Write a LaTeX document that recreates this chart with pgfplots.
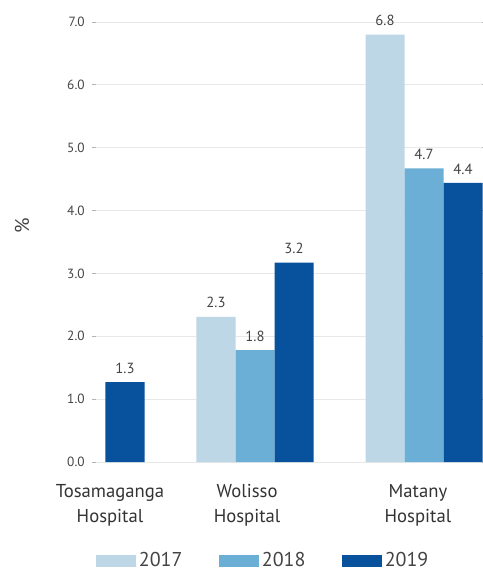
\documentclass[border=0pt]{standalone}
\usepackage{pgfplots}
\pgfplotsset{compat=1.18}
\usepackage{fontspec}
\setmainfont{PT Sans}
\definecolor{c17}{HTML}{BDD7E7}
\definecolor{c18}{HTML}{6BAED6}
\definecolor{c19}{HTML}{08519C}
\definecolor{txt}{HTML}{444444}
\pgfplotsset{
  mybar/.style={ybar, bar width=0.2308, bar shift=0pt, draw=none, fill=#1,
    legend image code/.code={\fill[#1] (0pt,-4.5pt) rectangle (30pt,4.5pt);}},
}
\begin{document}
\begin{tikzpicture}
\begin{axis}[
  at={(0,0)}, anchor=south west, scale only axis,
  width=289.5pt, height=330pt,
  xmin=0.0592, xmax=2.343, ymin=0, ymax=7,
  axis line style={draw=none},
  ytick={0,1,...,7},
  yticklabel style={font=\fontsize{10}{12}\selectfont, text=txt, xshift=-2pt,
    /pgf/number format/.cd, fixed, fixed zerofill, precision=1, assume math mode=true},
  major y tick style={draw=gray!60, line width=0.75pt},
  major tick length=3pt, tick align=outside,
  ymajorgrids, grid style={color=black!9, line width=0.75pt},
  xtick={0.142,0.953,1.964},
  xticklabels={{Tosamaganga\\Hospital},{Wolisso\\Hospital},{Matany\\Hospital}},
  xticklabel style={align=center, font=\fontsize{14}{18.75}\selectfont, text=black!80, yshift=-10pt},
  major x tick style={draw=none},
  ylabel={\%},
  ylabel style={at={(axis description cs:-0.1917,0.536)}, anchor=center,
    font=\fontsize{15}{18}\selectfont, text=txt},
  nodes near coords,
  nodes near coords style={font=\fontsize{11}{13}\selectfont, text=txt, yshift=3pt,
    /pgf/number format/.cd, fixed, fixed zerofill, precision=1, assume math mode=true},
  legend columns=3,
  legend style={draw=none, inner sep=0pt, at={(axis description cs:0,0)}, anchor=west,
    yshift=-74pt, font=\fontsize{15}{18}\selectfont, text=txt,
    /tikz/every even column/.append style={column sep=25.5pt}},
  clip=false,
]
\addplot[mybar=c17] coordinates {(0.7692,2.31) (1.7692,6.80)};
\addlegendentry{2017}
\addplot[mybar=c18] coordinates {(1,1.78) (2,4.67)};
\addlegendentry{2018}
\addplot[mybar=c19] coordinates {(0.2308,1.27) (1.2308,3.17) (2.2308,4.44)};
\addlegendentry{2019}
\end{axis}
\pgfresetboundingbox
\path (-72pt,-81.75pt) rectangle (289.5pt,346.5pt);
\end{tikzpicture}
\end{document}
